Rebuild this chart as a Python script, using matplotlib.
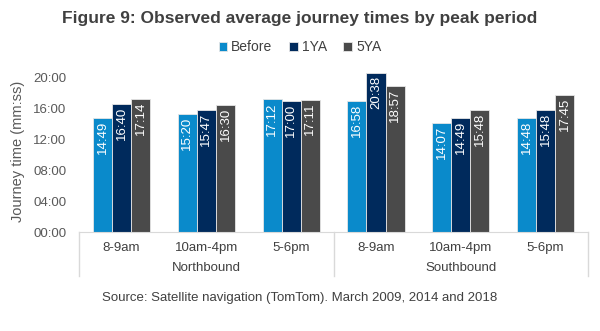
import numpy as np
import matplotlib.pyplot as plt
from matplotlib.lines import Line2D

plt.rcParams['font.family'] = ['Liberation Sans', 'DejaVu Sans']

# journey times in mm:ss
periods = ['8-9am', '10am-4pm', '5-6pm', '8-9am', '10am-4pm', '5-6pm']
directions = ['Northbound', 'Southbound']
before = ['14:49', '15:20', '17:12', '16:58', '14:07', '14:48']
one_ya = ['16:40', '15:47', '17:00', '20:38', '14:49', '15:48']
five_ya = ['17:14', '16:30', '17:11', '18:57', '15:48', '17:45']
series = ['Before', '1YA', '5YA']
colors = ['#0a8acb', '#002a5c', '#4a4a4a']
yticks_min = [0, 4, 8, 12, 16, 20]


def to_min(s):
    m, sec = s.split(':')
    return int(m) + int(sec) / 60.0


fig = plt.figure(figsize=(6, 3.31), dpi=100)
ax = fig.add_axes([0.132, 0.299, 0.848, 0.489])

x = np.arange(len(periods))
w = 0.225
for i, (name, vals) in enumerate(zip(series, [before, one_ya, five_ya])):
    h = [to_min(v) for v in vals]
    bars = ax.bar(x + (i - 1) * w, h, w, color=colors[i], edgecolor='#e6e6e6',
                  linewidth=0.6, label=name)
    for b, lab in zip(bars, vals):
        ax.text(b.get_x() + b.get_width() / 2, b.get_height() - 0.35, lab,
                rotation=90, ha='center', va='top', color='white', fontsize=9.5)

ax.set_xlim(-0.5, len(periods) - 0.5)
ax.set_ylim(0, 21)
ax.set_yticks(yticks_min)
ax.set_yticklabels(['%02d:00' % t for t in yticks_min])
ax.tick_params(axis='y', length=0, labelsize=9.5, labelcolor='#595959', pad=9)
ax.set_xticks([])
for s in ['top', 'right', 'left']:
    ax.spines[s].set_visible(False)
ax.spines['bottom'].set_color('#d9d9d9')

ax.set_ylabel('Journey time (mm:ss)', fontsize=10.5, color='#595959', labelpad=6)

# two-level category axis
tr = ax.get_xaxis_transform()
for xi, p in zip(x, periods):
    ax.text(xi, -0.1, p, transform=tr, ha='center', va='center',
            fontsize=9.5, color='#404040')
for j, d in enumerate(directions):
    ax.text(1 + 3 * j, -0.225, d, transform=tr, ha='center', va='center',
            fontsize=9.5, color='#404040')
for xs in [-0.5, 2.5, 5.5]:
    ax.add_line(Line2D([xs, xs], [0, -0.27], transform=tr, color='#d9d9d9',
                       linewidth=1, clip_on=False))

fig.text(0.5, 0.945, 'Figure 9: Observed average journey times by peak period',
         ha='center', va='center', fontsize=12.5, fontweight='bold', color='#404040')
fig.legend(loc='center', bbox_to_anchor=(0.5, 0.858), ncol=3, frameon=False,
           fontsize=10, handlelength=0.6, handleheight=0.6, handletextpad=0.3,
           columnspacing=1.2, labelcolor='#404040')
fig.text(0.5, 0.1, 'Source: Satellite navigation (TomTom). March 2009, 2014 and 2018',
         ha='center', va='center', fontsize=9.5, color='#404040')

fig.savefig('out.png', dpi=100)
